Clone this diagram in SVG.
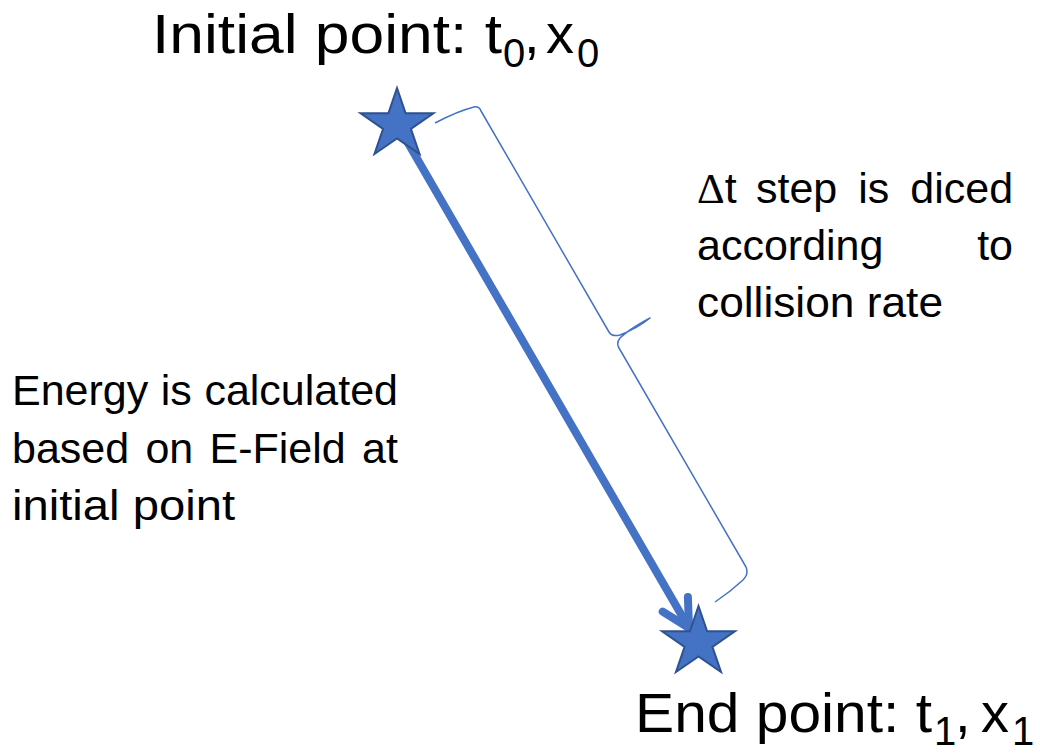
<svg xmlns="http://www.w3.org/2000/svg" width="1040" height="756" viewBox="0 0 1040 756">
<style>
.t{font-family:"Liberation Sans",Arial,sans-serif;fill:#000}
.big{font-size:56px}
.sub{font-size:40px}
.body{font-size:43px}
.sym{font-family:"Liberation Serif","Times New Roman",serif}
.star{fill:#4472C4;stroke:#2F528F;stroke-width:2;stroke-linejoin:miter}
.arrow{fill:none;stroke:#4472C4;stroke-width:8;stroke-linecap:round;stroke-linejoin:round}
.brace{fill:none;stroke:#4472C4;stroke-width:1.5;stroke-linejoin:round}
</style>
<defs>
<path id="starShape" d="M0,-36.5 L8.61,-11.28 L36.45,-11.28 L13.92,4.31 L22.53,29.53 L0,13.94 L-22.53,29.53 L-13.92,4.31 L-36.45,-11.28 L-8.61,-11.28 Z"/>
</defs>
<rect width="1040" height="756" fill="#fff"/>
<g id="connectors">
<path class="arrow" d="M397,124 L689,628"/>
<path class="arrow" d="M662.7,611.6 L689,628 L687.9,597"/>
<path class="brace" d="M435,123 Q458,111 474,107 Q479,106 481,111 L609,332 Q612,337 620,335 Q638,328 650,318 Q628,330 620,338 Q616,343 619,348 L746,567 Q749,574 743,580 Q730,592 715,602"/>
</g>
<g id="start-star">
<use href="#starShape" class="star" transform="translate(397,124.5)"/>
</g>
<g id="end-star">
<use href="#starShape" class="star" transform="translate(698.5,642.5)"/>
</g>
<g id="initial-label">
<text class="t big" x="152" y="53" textLength="350" lengthAdjust="spacingAndGlyphs">Initial point: t</text>
<text class="t sub" x="503" y="67">0</text>
<text class="t big" x="524" y="53">,</text>
<text class="t big" x="546" y="53">x</text>
<text class="t sub" x="577" y="67">0</text>
</g>
<g id="end-label">
<text class="t big" x="635" y="732" textLength="297" lengthAdjust="spacingAndGlyphs">End point: t</text>
<text class="t sub" x="934" y="745">1</text>
<text class="t big" x="955" y="732">,</text>
<text class="t big" x="981" y="732">x</text>
<text class="t sub" x="1012" y="745">1</text>
</g>
<g id="energy-note">
<text class="t body" y="405"><tspan x="12">Energy</tspan><tspan x="160.8">is</tspan><tspan x="204.4">calculated</tspan></text>
<text class="t body" y="463"><tspan x="12">based</tspan><tspan x="145.4">on</tspan><tspan x="209.5">E-Field</tspan><tspan x="362">at</tspan></text>
<text class="t body" y="520" x="12" textLength="223" lengthAdjust="spacingAndGlyphs">initial point</text>
</g>
<g id="dt-note">
<text class="t body" y="203"><tspan x="697" class="sym">Δ</tspan><tspan>t</tspan><tspan x="756">step</tspan><tspan x="858.3">is</tspan><tspan x="910.3">diced</tspan></text>
<text class="t body" y="260"><tspan x="697">according</tspan></text>
<text class="t body" y="260" x="1013" text-anchor="end">to</text>
<text class="t body" y="317" x="697" textLength="246" lengthAdjust="spacingAndGlyphs">collision rate</text>
</g>
</svg>
